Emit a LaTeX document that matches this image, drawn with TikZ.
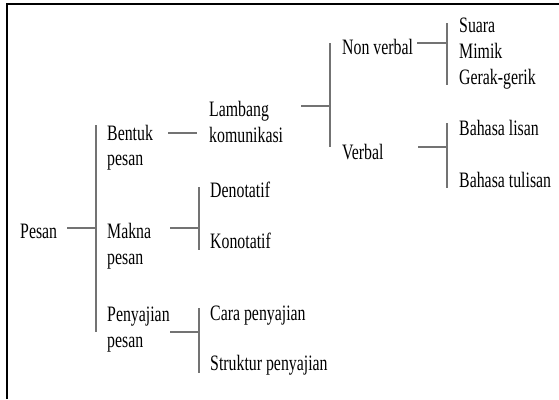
\documentclass[tikz,border=0pt]{standalone}
\usepackage{fontspec}
\setmainfont[FakeStretch=0.72]{Liberation Serif}
\begin{document}
\begin{tikzpicture}[x=1pt,y=-1pt,
  lbl/.style={anchor=base west,inner sep=0pt,font=\fontsize{22}{26}\selectfont},
  conn/.style={draw=black!55,line width=1.8pt},
  brk/.style={draw=black!55,line width=1.4pt}]
\useasboundingbox (0,0) rectangle (559,399);
\fill[white] (0,0) rectangle (559,399);
\draw[line width=2.5pt] (7,399) -- (7,4) -- (559,4);

% level 0
\node[lbl] (pesan) at (20,238) {Pesan};
% level 1
\node[lbl] (bentuk) at (107,140) {Bentuk};
\node[lbl] (bentuk2) at (107,165) {pesan};
\node[lbl] (makna) at (107,238) {Makna};
\node[lbl] (makna2) at (107,264) {pesan};
\node[lbl] (penyajian) at (107,321) {Penyajian};
\node[lbl] (penyajian2) at (107,347) {pesan};
% level 2
\node[lbl] (lambang) at (209,116) {Lambang};
\node[lbl] (lambang2) at (209,142) {komunikasi};
\node[lbl] (denotatif) at (210,197) {Denotatif};
\node[lbl] (konotatif) at (210,248) {Konotatif};
\node[lbl] (cara) at (210,320) {Cara penyajian};
\node[lbl] (struktur) at (210,370) {Struktur penyajian};
% level 3
\node[lbl] (nonverbal) at (342,54) {Non verbal};
\node[lbl] (verbal) at (342,159) {Verbal};
% level 4
\node[lbl] (suara) at (459,32) {Suara};
\node[lbl] (mimik) at (459,58) {Mimik};
\node[lbl] (gerak) at (459,84) {Gerak-gerik};
\node[lbl] (lisan) at (459,135) {Bahasa lisan};
\node[lbl] (tulisan) at (459,187) {Bahasa tulisan};

% junction coordinates
\coordinate (p0) at (67,228);
\coordinate (b0) at (96,228);
\coordinate (b0t) at (96,125);
\coordinate (b0b) at (96,332);
\coordinate (l1a) at (168,133);
\coordinate (l1b) at (197,133);
\coordinate (m1a) at (170,228);
\coordinate (m1b) at (199,228);
\coordinate (m1t) at (199,187);
\coordinate (m1d) at (199,250);
\coordinate (s1a) at (170,332);
\coordinate (s1b) at (199,332);
\coordinate (s1t) at (199,308);
\coordinate (s1d) at (199,373);
\coordinate (k2a) at (301,106);
\coordinate (k2b) at (330,106);
\coordinate (k2t) at (330,43);
\coordinate (k2d) at (330,147);
\coordinate (n3a) at (417,43);
\coordinate (n3b) at (447,43);
\coordinate (n3t) at (447,23);
\coordinate (n3d) at (447,85);
\coordinate (v3a) at (418,147);
\coordinate (v3b) at (447,147);
\coordinate (v3t) at (447,123);
\coordinate (v3d) at (447,188);

\draw[conn] (p0) -- (b0);
\draw[brk] (b0t) -- (b0b);
\draw[conn] (l1a) -- (l1b);
\draw[conn] (m1a) -- (m1b);
\draw[brk] (m1t) -- (m1d);
\draw[conn] (s1a) -- (s1b);
\draw[brk] (s1t) -- (s1d);
\draw[conn] (k2a) -- (k2b);
\draw[brk] (k2t) -- (k2d);
\draw[conn] (n3a) -- (n3b);
\draw[brk] (n3t) -- (n3d);
\draw[conn] (v3a) -- (v3b);
\draw[brk] (v3t) -- (v3d);
\end{tikzpicture}
\end{document}
